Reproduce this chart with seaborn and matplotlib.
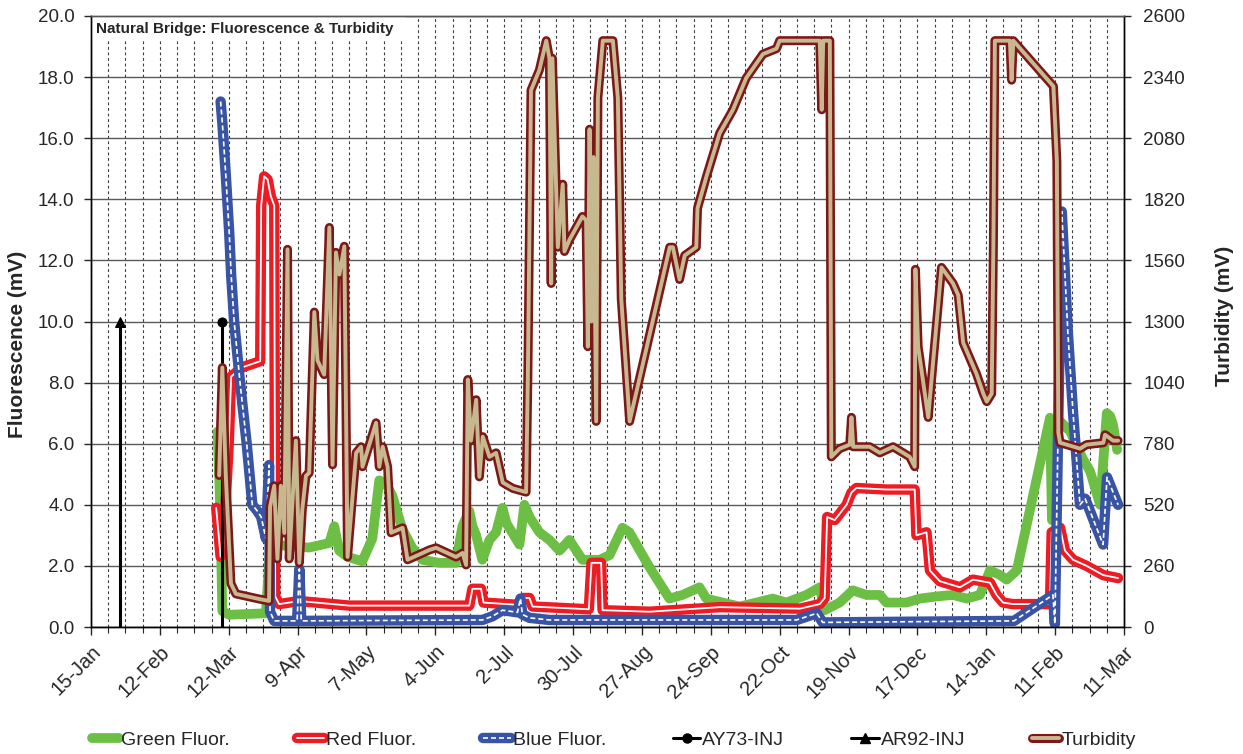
import matplotlib.pyplot as plt
import pandas as pd
import seaborn as sns
from matplotlib.lines import Line2D
from matplotlib.patches import Rectangle

# days after 15-Jan (first tick)
start = pd.Timestamp('2009-01-15')

green_day = [51.5, 52.5, 53.4, 56.2, 71.1, 72.9, 88.7, 96.9, 98.9, 100.9, 104.2, 110.3, 114.4, 117.2,
             119.9, 122.5, 126.6, 130.6, 134.7, 141.6, 148.4, 151.0, 153.8, 155.1, 156.6, 159.1, 162.0,
             164.7, 167.3, 168.9, 174.2, 176.2, 178.3, 182.3, 186.4, 190.5, 194.5, 199.8, 206.8, 210.8,
             216.1, 218.9, 227.1, 235.2, 240.5, 247.4, 250.2, 256.8, 263.7, 270.5, 277.2, 282.7, 290.9,
             296.3, 298.3, 304.4, 309.7, 315.3, 320.7, 323.4, 331.6, 337.0, 343.8, 350.4, 356.0, 361.4,
             365.5, 369.6, 372.3, 376.4, 389.9, 390.7, 393.2, 398.1, 403.3, 406.2, 410.3, 413.0, 414.4,
             415.6, 417.2]
green_mv = [6.4, 4.0, 0.52, 0.4, 0.45, 2.7, 2.6, 2.75, 3.3, 2.5, 2.3, 2.15, 2.9, 4.8,
            4.7, 4.3, 3.2, 2.6, 2.2, 2.1, 2.1, 3.3, 3.8, 3.3, 3.0, 2.2, 2.85,
            3.1, 3.9, 3.4, 2.7, 4.0, 3.6, 3.1, 2.85, 2.5, 2.85, 2.2, 2.2, 2.35,
            3.25, 3.1, 1.95, 0.93, 1.05, 1.3, 0.93, 0.8, 0.67, 0.8, 0.93, 0.8, 1.05,
            1.3, 0.55, 0.8, 1.2, 1.05, 1.05, 0.8, 0.8, 0.93, 1.0, 1.05, 0.93, 1.05,
            1.85, 1.7, 1.55, 1.85, 6.85, 3.5, 6.8, 6.4, 5.5, 5.1, 4.0, 7.0, 6.9,
            6.6, 5.8]

red_day = [50.9, 52.7, 53.7, 56.0, 57.0, 61.5, 68.8, 69.2, 70.4, 71.8, 73.1, 74.5, 74.9, 76.5, 84.7,
           105.0, 153.8, 155.1, 158.6, 159.6, 172.9, 175.8, 178.3, 179.5, 202.4, 203.5, 207.4, 208.0,
           227.1, 255.6, 288.2, 296.3, 298.3, 299.3, 302.4, 307.2, 309.2, 311.2, 323.4, 334.9, 335.6,
           339.7, 341.1, 345.1, 353.3, 358.6, 365.5, 368.2, 370.8, 374.8, 389.9, 390.6, 394.0, 396.0,
           399.3, 404.8, 411.5, 417.6]
red_mv = [3.9, 2.3, 2.5, 6.0, 8.2, 8.5, 8.7, 13.8, 14.75, 14.65, 14.1, 13.8, 1.0, 0.75, 0.85,
          0.7, 0.7, 1.25, 1.25, 0.8, 0.73, 0.95, 0.95, 0.67, 0.58, 2.1, 2.1, 0.55,
          0.5, 0.65, 0.6, 0.75, 0.95, 3.6, 3.5, 4.0, 4.4, 4.55, 4.5, 4.5, 3.0,
          3.1, 1.85, 1.5, 1.3, 1.55, 1.45, 1.05, 0.8, 0.75, 0.75, 3.1, 3.25, 2.5,
          2.2, 2.0, 1.7, 1.6]

blue_day = [52.7, 53.4, 54.8, 56.2, 57.0, 58.2, 60.6, 63.3, 65.6, 67.6, 69.2, 71.1, 72.4, 72.8, 74.5,
            83.8, 84.7, 85.5, 159.1, 163.2, 167.3, 173.4, 174.6, 175.4, 178.3, 186.4, 286.9, 295.1,
            297.5, 375.3, 391.1, 391.9, 394.7, 397.2, 399.3, 402.1, 404.2, 411.5, 413.1, 415.6, 417.6]
blue_mv = [17.2, 16.5, 14.8, 12.9, 11.5, 10.0, 8.0, 6.0, 4.0, 3.8, 3.6, 2.9, 5.3, 0.5, 0.2,
           0.2, 1.9, 0.2, 0.23, 0.35, 0.55, 0.48, 0.93, 0.41, 0.3, 0.23, 0.23, 0.45,
           0.15, 0.2, 1.05, 0.1, 13.6, 9.6, 7.0, 4.0, 4.2, 2.7, 4.9, 4.4, 4.0]

turb_day = [52.1, 53.4, 54.8, 56.9, 58.9, 68.4, 72.4, 72.8, 74.5, 75.8,
            77.2, 78.6, 79.9, 80.6, 83.3, 84.7, 85.9, 87.4, 88.7, 90.8,
            92.1, 94.8, 96.9, 98.2, 99.6, 101.0, 103.0, 104.3, 107.8, 109.8,
            110.4, 115.9, 117.2, 118.6, 120.6, 122.0, 126.7, 128.7, 137.6, 140.3,
            148.4, 151.1, 152.5, 153.2, 154.5, 156.6, 157.9, 159.3, 162.0, 164.7,
            167.4, 171.5, 176.9, 177.6, 178.9, 182.3, 185.1, 186.4, 187.1, 187.6,
            189.8, 191.8, 192.5, 194.5, 199.8, 201.3, 202.0, 202.7, 203.5, 204.3,
            205.4, 206.1, 208.1, 212.2, 214.2, 215.6, 219.0, 235.3, 236.6, 239.3,
            241.4, 246.1, 246.6, 250.2, 255.6, 261.0, 266.4, 273.2, 278.7, 280.0,
            296.3, 297.1, 297.7, 300.4, 301.0, 304.4, 308.5, 309.2, 309.9, 316.6,
            320.7, 326.1, 332.9, 334.9, 335.2, 336.3, 340.4, 341.1, 345.8, 350.5,
            352.6, 354.6, 357.3, 360.0, 362.8, 364.2, 366.2, 366.9, 367.5, 373.6,
            374.3, 375.0, 391.3, 392.7, 393.3, 394.0, 396.7, 402.1, 404.8, 411.6,
            412.3, 415.6, 417.6]
turb_mv = [645, 1104, 645, 185, 141, 119, 111, 511, 601, 290,
           601, 400, 1607, 290, 793, 273, 499, 643, 656, 1340,
           1134, 1074, 1700, 690, 1594, 1500, 1620, 298, 741, 767,
           682, 869, 682, 767, 682, 401, 422, 286, 328, 337,
           298, 315, 264, 1053, 793, 967, 639, 810, 724, 741,
           615, 590, 574, 1053, 2284, 2370, 2495, 2420, 1462, 2420,
           1616, 1884, 1598, 1647, 1747, 1731, 1193, 2118, 1300, 2000,
           875, 2252, 2495, 2495, 2252, 1396, 875, 1616, 1616, 1479,
           1581, 1616, 1782, 1916, 2101, 2201, 2336, 2438, 2461, 2495,
           2495, 2201, 2495, 2495, 724, 759, 776, 892, 767, 767,
           741, 767, 724, 682, 1522, 1193, 892, 976, 1530, 1462,
           1412, 1210, 1144, 1078, 993, 959, 993, 1632, 2495, 2495,
           2327, 2495, 2301, 1983, 827, 784, 776, 759, 776, 784,
           818, 793, 793]

# dye injections: AY73, AR92
inj_day = [53.4, 11.6]
inj_top = [10.0, 10.0]

tick_labels = ['15-Jan', '12-Feb', '12-Mar', '9-Apr', '7-May', '4-Jun', '2-Jul', '30-Jul',
               '27-Aug', '24-Sep', '22-Oct', '19-Nov', '17-Dec', '14-Jan', '11-Feb', '11-Mar']

GREEN = '#6CBE45'
RED = '#ED1C24'
BLUE = '#3A54A4'
TURB = '#7D1818'
TAN = '#C8B890'


def dates(days):
    return start + pd.to_timedelta(days, unit='D')


sns.set_style('white')
plt.rcParams['font.family'] = ['Liberation Sans', 'DejaVu Sans']

fig = plt.figure(figsize=(12.43, 7.54), dpi=100)
ax = fig.add_axes([91 / 1243, 1 - 627 / 754, 1033 / 1243, 611 / 754])
ax2 = ax.twinx()

kw = dict(estimator=None, sort=False, legend=False,
          solid_joinstyle='round', solid_capstyle='round')

sns.lineplot(x=dates(green_day), y=green_mv, ax=ax, color=GREEN, linewidth=7, zorder=2, **kw)
sns.lineplot(x=dates(red_day), y=red_mv, ax=ax, color=RED, linewidth=7.5, zorder=2.1, **kw)
sns.lineplot(x=dates(red_day), y=red_mv, ax=ax, color='white', linewidth=1.3, zorder=2.2, **kw)
sns.lineplot(x=dates(blue_day), y=blue_mv, ax=ax, color=BLUE, linewidth=7.5, zorder=2.3, **kw)
sns.lineplot(x=dates(blue_day), y=blue_mv, ax=ax, color='white', linewidth=1.2,
             linestyle=(0, (3, 1.8)), zorder=2.4, **kw)

for d, top, mk in zip(inj_day, inj_top, ['o', '^']):
    sns.lineplot(x=dates([d, d]), y=[0, top], ax=ax, color='black', linewidth=2.2,
                 marker=mk, markevery=[1], markersize=6.5, markeredgecolor='black',
                 estimator=None, sort=False, legend=False, zorder=2.5)

sns.lineplot(x=dates(turb_day), y=turb_mv, ax=ax2, color=TURB, linewidth=6.5, **kw)
sns.lineplot(x=dates(turb_day), y=turb_mv, ax=ax2, color=TAN, linewidth=2.8, **kw)

# axes
ax.set_xlim(start, start + pd.Timedelta(days=420))
ax.set_ylim(0, 20)
ax2.set_ylim(0, 2600)
ax.set_xticks(pd.date_range(start, periods=16, freq='28D'))
ax.set_xticklabels(tick_labels, rotation=45, ha='right', rotation_mode='anchor')
ax.set_xticks(pd.date_range(start, periods=61, freq='7D'), minor=True)
ax.set_yticks([i * 2 for i in range(11)])
ax.set_yticklabels([f'{i * 2:.1f}' for i in range(11)])
ax2.set_yticks([i * 260 for i in range(11)])
ax2.set_yticklabels([str(i * 260) for i in range(11)])

ax.set_axisbelow(True)
ax.grid(True, axis='y', which='major', color='#5a5a5a', linewidth=1, linestyle='-')
ax.grid(True, axis='x', which='both', color='#3c3c3c', linewidth=0.8, linestyle=(0, (2.5, 2.5)))
ax2.grid(False)

ax.tick_params(axis='y', which='major', left=True, length=5, width=1, pad=7, labelsize=13.5)
ax.tick_params(axis='x', which='major', bottom=True, length=6, width=1, pad=5, labelsize=14.5)
ax.tick_params(axis='x', which='minor', bottom=True, length=4, width=0.8)
ax2.tick_params(axis='y', which='major', right=True, length=5, width=1, pad=9, labelsize=13.5)

for a in (ax, ax2):
    for s in a.spines.values():
        s.set_color('black')
        s.set_linewidth(1)
    a.spines['top'].set_color('#555555')
    a.set_xlabel('')

ax.set_ylabel('Fluorescence (mV)', fontsize=15, fontweight='bold')
ax.yaxis.set_label_coords(-0.062, 0.463)
ax2.set_ylabel('Turbidity (mV)', fontsize=15, fontweight='bold')
ax2.yaxis.set_label_coords(1.088, 0.51)

# title box inside the plot
ax.add_patch(Rectangle((0, 0.961), 0.304, 0.039, transform=ax.transAxes,
                       facecolor='white', edgecolor='none', zorder=1))
ax.text(0.005, 0.99, 'Natural Bridge: Fluorescence & Turbidity', transform=ax.transAxes,
        fontsize=11, fontweight='bold', ha='left', va='top', zorder=5)

handles = [
    Line2D([], [], color=GREEN, lw=7, solid_capstyle='round'),
    (Line2D([], [], color=RED, lw=7.5, solid_capstyle='round'),
     Line2D([], [], color='white', lw=1.3)),
    (Line2D([], [], color=BLUE, lw=7.5, solid_capstyle='round'),
     Line2D([], [], color='white', lw=1.2, linestyle=(0, (3, 1.8)))),
    Line2D([], [], color='black', lw=2.2, marker='o', markersize=6.5),
    Line2D([], [], color='black', lw=2.2, marker='^', markersize=6.5),
    (Line2D([], [], color=TURB, lw=6.5, solid_capstyle='round'),
     Line2D([], [], color=TAN, lw=2.8)),
]
labels = ['Green Fluor.', 'Red Fluor.', 'Blue Fluor.', 'AY73-INJ', 'AR92-INJ', 'Turbidity']
fig.legend(handles, labels, loc='center left', bbox_to_anchor=(0.074, 0.0186), ncol=6,
           frameon=False, fontsize=14, handlelength=1.4, handletextpad=0.1,
           columnspacing=3.45, borderpad=0, borderaxespad=0)

fig.savefig('out.png', dpi=100)
